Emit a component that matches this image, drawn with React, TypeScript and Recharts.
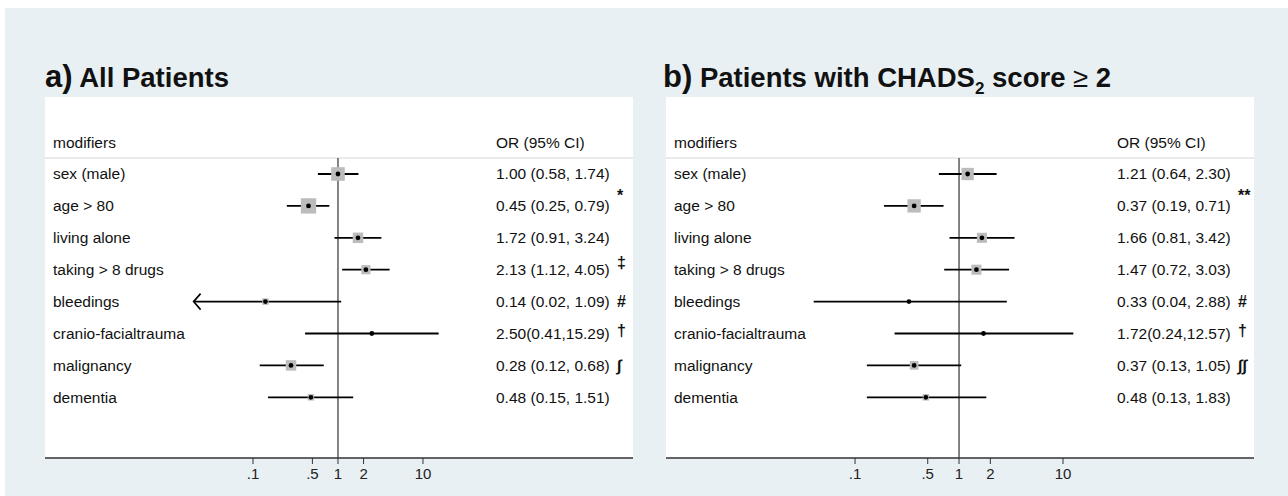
import React from "react";
import { ComposedChart, Scatter, XAxis, YAxis, ErrorBar, ReferenceLine } from "recharts";

const modifiers = [
  "sex (male)",
  "age > 80",
  "living alone",
  "taking > 8 drugs",
  "bleedings",
  "cranio-facialtrauma",
  "malignancy",
  "dementia",
];

// a) all patients
const orAll = [1.0, 0.45, 1.72, 2.13, 0.14, 2.5, 0.28, 0.48];
const lowAll = [0.58, 0.25, 0.91, 1.12, 0.02, 0.41, 0.12, 0.15];
const highAll = [1.74, 0.79, 3.24, 4.05, 1.09, 15.29, 0.68, 1.51];
const weightAll = [22, 28, 13, 10, 5, 0, 13, 5];
const notesAll = ["", "*", "", "‡", "#", "†", "∫", ""];
const clippedAll = [false, false, false, false, true, false, false, false];

// b) CHADS2 score >= 2
const orChads = [1.21, 0.37, 1.66, 1.47, 0.33, 1.72, 0.37, 0.48];
const lowChads = [0.64, 0.19, 0.81, 0.72, 0.04, 0.24, 0.13, 0.13];
const highChads = [2.3, 0.71, 3.42, 3.03, 2.88, 12.57, 1.05, 1.83];
const weightChads = [18, 21, 12, 12, 0, 0, 9, 5];
const notesChads = ["", "**", "", "", "#", "†", "∫∫", ""];
const clippedChads = [false, false, false, false, false, false, false, false];

const ticks = [0.1, 0.5, 1, 2, 10];
const tickLabels = [".1", ".5", "1", "2", "10"];

const FONT = '"Liberation Sans", Arial, Helvetica, sans-serif';
const W = 588;
const H = 393;
const AXIS_H = 32;
const Y_DOMAIN: [number, number] = [-1.414, 9.903];
const TEXT_X = 451;
const NOTE_X = 572;

const f = (v: number) => v.toFixed(2);

function buildRows(est: number[], lo: number[], hi: number[], w: number[], notes: string[], clipped: boolean[]) {
  return modifiers.map((label, i) => ({
    label,
    x: est[i],
    y: i + 1,
    err: [est[i] - lo[i], hi[i] - est[i]],
    low: lo[i],
    weight: w[i],
    note: notes[i],
    clipped: clipped[i],
    text: hi[i] >= 10 ? `${f(est[i])}(${f(lo[i])},${f(hi[i])})` : `${f(est[i])} (${f(lo[i])}, ${f(hi[i])})`,
  }));
}

const rowsAll = buildRows(orAll, lowAll, highAll, weightAll, notesAll, clippedAll);
const rowsChads = buildRows(orChads, lowChads, highChads, weightChads, notesChads, clippedChads);
const header = [{ x: 1, y: 0 }];

const HeaderShape = (props: any) => (
  <g>
    <text x={8} y={props.cy} dy="0.35em" fontSize={15.5} fontFamily={FONT} fill="#111">modifiers</text>
    <text x={TEXT_X} y={props.cy} dy="0.35em" fontSize={15.5} fontFamily={FONT} fill="#111">OR (95% CI)</text>
  </g>
);

const BoxShape = (props: any) => {
  const { cx, cy, payload } = props;
  const s = 2.9 * Math.sqrt(payload.weight);
  const lift = payload.note.startsWith("*") ? 11 : payload.note === "‡" ? 7 : payload.note === "†" ? 3 : 0;
  return (
    <g>
      <text x={8} y={cy} dy="0.35em" fontSize={15.5} fontFamily={FONT} fill="#111">{payload.label}</text>
      <text x={TEXT_X} y={cy} dy="0.35em" fontSize={15.5} fontFamily={FONT} fill="#111">{payload.text}</text>
      {payload.note && (
        <text x={NOTE_X} y={cy - lift} dy="0.35em" fontSize={16} fontWeight="bold" fontFamily={FONT} fill="#111">
          {payload.note}
        </text>
      )}
      {s > 0 && <rect x={cx - s / 2} y={cy - s / 2} width={s} height={s} fill="#bcbcbc" />}
    </g>
  );
};

const DotShape = (props: any) => <circle cx={props.cx} cy={props.cy} r={2.4} fill="#000" />;

const ArrowShape = (props: any) => (
  <path
    d={`M${props.cx + 7},${props.cy - 8} L${props.cx},${props.cy} L${props.cx + 7},${props.cy + 8}`}
    stroke="#000"
    strokeWidth={1.6}
    fill="none"
  />
);

function ForestPanel({ rows, domain, left }: { rows: any[]; domain: [number, number]; left: number }) {
  const arrows = rows.filter((r) => r.clipped).map((r) => ({ x: r.low, y: r.y }));
  return (
    <div style={{ position: "absolute", left, top: 97, width: W, height: H }}>
      <div style={{ position: "absolute", left: 0, top: 0, width: W, height: H - AXIS_H, background: "#fff" }} />
      <div style={{ position: "absolute", left: 0, top: 0 }}>
        <ComposedChart width={W} height={H} margin={{ top: 0, right: 0, bottom: 0, left: 0 }}>
          <XAxis
            type="number"
            dataKey="x"
            scale="log"
            domain={domain}
            allowDataOverflow
            ticks={ticks}
            interval={0}
            tickFormatter={(v) => tickLabels[ticks.indexOf(v)]}
            height={AXIS_H}
            tickSize={6}
            tickMargin={4}
            axisLine={{ stroke: "#333", strokeWidth: 1.5 }}
            tickLine={{ stroke: "#333" }}
            tick={{ fontSize: 15, fill: "#222", fontFamily: FONT }}
          />
          <YAxis type="number" dataKey="y" domain={Y_DOMAIN} reversed hide allowDataOverflow />
          <ReferenceLine y={0.5} stroke="#d6d6d6" />
          <ReferenceLine
            segment={[
              { x: 1, y: 0.5 },
              { x: 1, y: Y_DOMAIN[1] },
            ]}
            stroke="#333"
            strokeWidth={1.2}
          />
          <Scatter data={header} shape={HeaderShape} isAnimationActive={false} />
          <Scatter data={rows} shape={BoxShape} isAnimationActive={false} />
          <Scatter data={rows} shape={DotShape} isAnimationActive={false}>
            <ErrorBar dataKey="err" direction="x" width={0} stroke="#000" strokeWidth={1.8} />
          </Scatter>
          <Scatter data={arrows} shape={ArrowShape} isAnimationActive={false} />
        </ComposedChart>
      </div>
    </div>
  );
}

export default function App() {
  return (
    <div style={{ position: "relative", width: 1288, height: 496, background: "#fff", fontFamily: FONT, overflow: "hidden" }}>
      <style>{"body{margin:0}"}</style>
      <div style={{ position: "absolute", left: 5, top: 8, right: 0, bottom: 0, background: "#e9f0f3" }} />
      <div style={{ position: "absolute", left: 45, top: 59, fontSize: 27.5, fontWeight: "bold", color: "#111", whiteSpace: "nowrap" }}>
        <span style={{ fontSize: 31 }}>a)</span> All Patients
      </div>
      <div style={{ position: "absolute", left: 663, top: 59, fontSize: 27.5, fontWeight: "bold", color: "#111", whiteSpace: "nowrap" }}>
        <span style={{ fontSize: 31 }}>b)</span> Patients with CHADS<sub style={{ fontSize: 17 }}>2</sub> score{" "}
        <span style={{ fontWeight: "normal" }}>≥</span> 2
      </div>
      <ForestPanel rows={rowsAll} domain={[0.000357, 2960]} left={45} />
      <ForestPanel rows={rowsChads} domain={[0.00152, 687]} left={666} />
    </div>
  );
}
